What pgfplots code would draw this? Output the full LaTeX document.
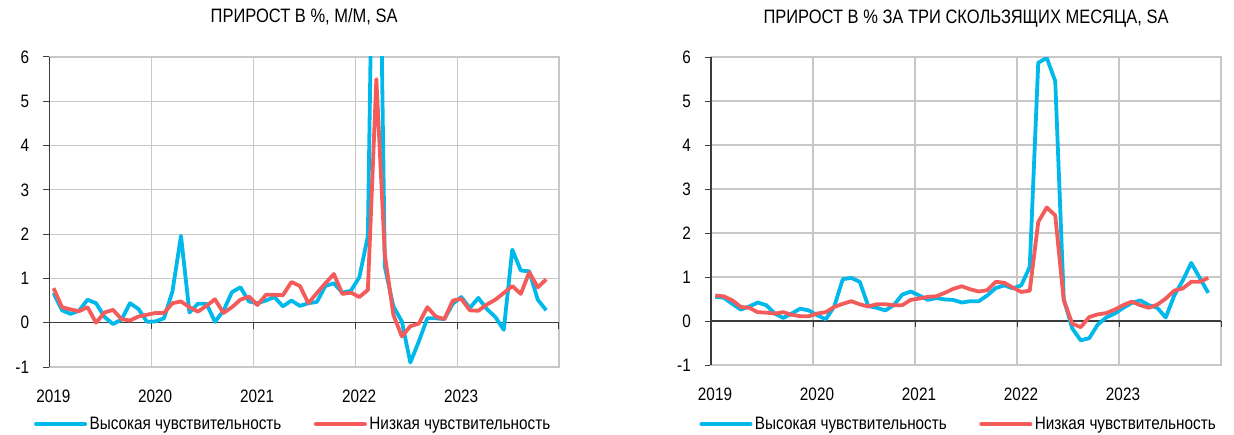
\documentclass[border=0pt]{standalone}
\usepackage{pgfplots}
\pgfplotsset{compat=1.18}
\usepackage{pgfplotstable}
\usepackage{fontspec}
\setmainfont[FakeStretch=0.85]{Liberation Sans}

\definecolor{hiblue}{RGB}{0,184,234}
\definecolor{lored}{RGB}{244,92,92}
\definecolor{gridgray}{RGB}{200,200,200}
\definecolor{axdark}{RGB}{60,60,60}

% month index (0 = Jan 2019), m/m growth
\pgfplotstableread{
i  hi     lo
0  0.67   0.78
1  0.28   0.35
2  0.20   0.30
3  0.27   0.26
4  0.52   0.35
5  0.44   0.00
6  0.13   0.23
7  -0.03  0.29
8  0.07   0.08
9  0.44   0.05
10 0.31   0.14
11 0.02   0.18
12 0.03   0.22
13 0.10   0.22
14 0.71   0.44
15 1.96   0.48
16 0.23   0.35
17 0.43   0.25
18 0.43   0.38
19 0.02   0.53
20 0.27   0.22
21 0.69   0.35
22 0.80   0.52
23 0.48   0.59
24 0.44   0.40
25 0.50   0.63
26 0.58   0.63
27 0.37   0.62
28 0.50   0.92
29 0.38   0.83
30 0.44   0.44
31 0.47   0.67
32 0.83   0.89
33 0.89   1.10
34 0.68   0.65
35 0.72   0.68
36 1.03   0.58
37 1.95   0.74
38 14.8   5.50
39 1.26   1.53
40 0.37   0.18
41 0.03   -0.31
42 -0.90  -0.08
43 -0.42  -0.02
44 0.10   0.35
45 0.10   0.14
46 0.08   0.08
47 0.43   0.50
48 0.58   0.54
49 0.33   0.28
50 0.56   0.27
51 0.31   0.41
52 0.13   0.52
53 -0.16  0.67
54 1.65   0.83
55 1.18   0.65
56 1.16   1.14
57 0.52   0.80
58 0.28   0.98
}\mom

% three-month moving growth
\pgfplotstableread{
i  hi     lo
0  0.55   0.58
1  0.53   0.56
2  0.39   0.47
3  0.26   0.32
4  0.33   0.30
5  0.42   0.20
6  0.36   0.19
7  0.17   0.17
8  0.07   0.20
9  0.17   0.14
10 0.28   0.11
11 0.24   0.11
12 0.13   0.17
13 0.04   0.20
14 0.33   0.32
15 0.95   0.39
16 0.98   0.45
17 0.89   0.38
18 0.34   0.33
19 0.30   0.38
20 0.24   0.38
21 0.36   0.36
22 0.60   0.36
23 0.67   0.48
24 0.58   0.51
25 0.48   0.55
26 0.52   0.56
27 0.49   0.64
28 0.48   0.73
29 0.42   0.79
30 0.45   0.72
31 0.45   0.67
32 0.58   0.70
33 0.75   0.89
34 0.81   0.87
35 0.74   0.76
36 0.81   0.66
37 1.23   0.69
38 5.87   2.25
39 5.98   2.58
40 5.45   2.40
41 0.50   0.47
42 -0.17  -0.06
43 -0.44  -0.14
44 -0.39  0.09
45 -0.08  0.15
46 0.08   0.18
47 0.17   0.26
48 0.30   0.36
49 0.41   0.44
50 0.47   0.36
51 0.36   0.30
52 0.30   0.37
53 0.08   0.51
54 0.58   0.69
55 0.92   0.74
56 1.32   0.89
57 0.98   0.89
58 0.64   0.98
}\threem

\pgfplotsset{
  panel/.style={
    scale only axis,
    anchor=south west,
    font=\fontsize{18}{21}\selectfont,
    xmin=-0.5, xmax=59.5,
    ymin=-1, ymax=6,
    xtick={-0.5,11.5,23.5,35.5,47.5,59.5},
    xticklabels={2019,2020,2021,2022,2023,},
    ytick={-1,0,1,2,3,4,5,6},
    yticklabels={-1,0,1,2,3,4,5,6},
    xticklabel style={anchor=base, yshift=-29.5pt, xshift=4pt},
    yticklabel style={anchor=east, inner sep=0pt, xshift=-14pt},
    grid=major,
    major grid style={gridgray, line width=1.1pt},
    axis line style={draw=gridgray, line width=1.1pt},
    tick align=outside,
    major tick length=6pt,
    ytick pos=left,
    ytick style={draw=axdark, line width=1pt},
    xtick style={draw=none},
    clip mode=individual,
    title style={at={(0.5,1)}, anchor=base, yshift=28pt, inner sep=0pt,
      font=\fontsize{19.4}{22}\selectfont},
    legend columns=2,
    legend style={draw=none, fill=none, inner sep=0pt,
      nodes={inner sep=2.5pt, anchor=west},
      /tikz/every even column/.append style={column sep=30pt}},
    legend image code/.code={\draw[#1, line width=4pt, line cap=round] (2pt,0pt) -- (51pt,0pt);},
    every axis plot/.append style={line width=3.8pt, line join=round, mark=none},
  },
}

\begin{document}
\begin{tikzpicture}[x=1pt,y=1pt]
\useasboundingbox (0,0) rectangle (1234,434);

% left panel: m/m
\begin{axis}[panel,
  at={(49.3pt,67pt)}, width=509.7pt, height=310pt,
  title={ПРИРОСТ В \%, М/М, SA},
  legend style={at={(axis description cs:0.479,-0.184)}, anchor=center},
]
\draw[axdark, line width=1.2pt] (axis cs:-0.5,0) -- (axis cs:59.5,0);
\pgfplotsinvokeforeach{11.5,23.5,35.5,47.5,59.5}{
  \draw[axdark, line width=1pt] (axis cs:#1,0) -- ++(0pt,-6pt);
}
\draw[axdark, line width=1.2pt] (axis cs:-0.5,-1) -- (axis cs:-0.5,6);
\addplot[hiblue] table[x=i, y=hi] {\mom};
\addlegendentry{Высокая чувствительность}
\addplot[lored] table[x=i, y=lo] {\mom};
\addlegendentry{Низкая чувствительность}
\end{axis}

% right panel: three-month
\begin{axis}[panel,
  at={(711pt,69pt)}, width=510pt, height=308pt,
  title={ПРИРОСТ В \% ЗА ТРИ СКОЛЬЗЯЩИХ МЕСЯЦА, SA},
  legend style={at={(axis description cs:0.486,-0.192)}, anchor=center},
]
\draw[axdark, line width=1.2pt] (axis cs:-0.5,0) -- (axis cs:59.5,0);
\pgfplotsinvokeforeach{11.5,23.5,35.5,47.5,59.5}{
  \draw[axdark, line width=1pt] (axis cs:#1,0) -- ++(0pt,-6pt);
}
\draw[axdark, line width=1.2pt] (axis cs:-0.5,-1) -- (axis cs:-0.5,6);
\addplot[hiblue] table[x=i, y=hi] {\threem};
\addlegendentry{Высокая чувствительность}
\addplot[lored] table[x=i, y=lo] {\threem};
\addlegendentry{Низкая чувствительность}
\end{axis}
\end{tikzpicture}
\end{document}
